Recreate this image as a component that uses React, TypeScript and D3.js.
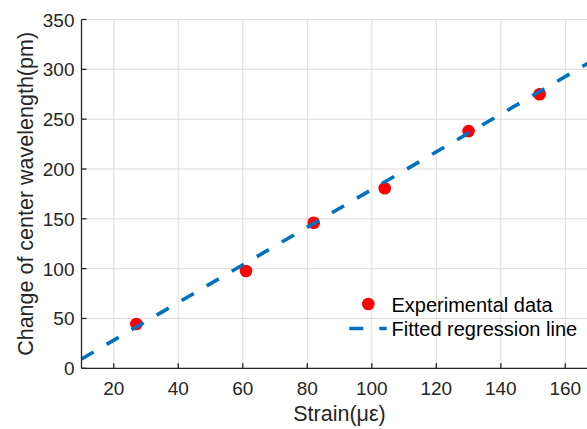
import React from "react";
import * as d3 from "d3";

const strain = [27, 61, 82, 104, 130, 152];
const wavelengthShift = [44.5, 97.6, 146, 180.6, 238, 275];
const fitX = [10, 170];
const fitY = [9.3, 311.7];
const xTicks = [20, 40, 60, 80, 100, 120, 140, 160];
const yTicks = [0, 50, 100, 150, 200, 250, 300, 350];

const W = 587;
const H = 429;
const axisColor = "#262626";
const font = "'Liberation Sans', Arial, Helvetica, sans-serif";

export default function App() {
  const x = d3.scaleLinear().domain([10, 170]).range([81.5, 597.6]);
  const y = d3.scaleLinear().domain([0, 350]).range([368.3, 19.5]);
  const [x0, x1] = x.range();
  const [y0, y1] = y.range();

  const line = d3
    .line<number>()
    .x((d) => x(d))
    .y((_, i) => y(fitY[i]));

  return (
    <svg
      width={W}
      height={H}
      style={{ position: "absolute", left: 0, top: 0, background: "#fff" }}
    >
      <rect x={0} y={0} width={W} height={H} fill="#fff" />
      {/* grid */}
      <g stroke="#dcdcdc" strokeWidth={1}>
        {xTicks.map((t) => (
          <line key={"gx" + t} x1={x(t)} x2={x(t)} y1={y0} y2={y1} />
        ))}
        {yTicks.map((t) => (
          <line key={"gy" + t} x1={x0} x2={x1} y1={y(t)} y2={y(t)} />
        ))}
      </g>
      {/* data points */}
      <g fill="#ff0000">
        {strain.map((s, i) => (
          <circle key={i} cx={x(s)} cy={y(wavelengthShift[i])} r={6.3} />
        ))}
      </g>
      {/* fit line */}
      <path
        d={line(fitX) || ""}
        fill="none"
        stroke="#0072BD"
        strokeWidth={3.6}
        strokeDasharray="14 15"
      />
      {/* axes */}
      <g stroke={axisColor} strokeWidth={1.3}>
        <line x1={x0} x2={x1} y1={y0} y2={y0} />
        <line x1={x0} x2={x0} y1={y0} y2={y1} />
        {xTicks.map((t) => (
          <line key={"tx" + t} x1={x(t)} x2={x(t)} y1={y0} y2={y0 - 5} />
        ))}
        {yTicks.map((t) => (
          <line key={"ty" + t} x1={x0} x2={x0 + 5} y1={y(t)} y2={y(t)} />
        ))}
      </g>
      {/* tick labels */}
      <g fill={axisColor} fontFamily={font} fontSize={19}>
        {xTicks.map((t) => (
          <text key={"lx" + t} x={x(t)} y={395} textAnchor="middle">
            {t}
          </text>
        ))}
        {yTicks.map((t) => (
          <text key={"ly" + t} x={74.5} y={y(t) + 7} textAnchor="end">
            {t}
          </text>
        ))}
      </g>
      {/* axis labels */}
      <text
        x={339.5}
        y={421}
        textAnchor="middle"
        fontFamily={font}
        fontSize={21.5}
        fill={axisColor}
      >
        Strain(με)
      </text>
      <text
        transform={`translate(32.5, ${(y0 + y1) / 2}) rotate(-90)`}
        textAnchor="middle"
        fontFamily={font}
        fontSize={21.5}
        fill={axisColor}
      >
        Change of center wavelength(pm)
      </text>
      {/* legend */}
      <g fontFamily={font} fontSize={20} fill="#000">
        <circle cx={368.3} cy={304} r={6.3} fill="#ff0000" />
        <text x={391.5} y={311.5}>Experimental data</text>
        <line
          x1={349.3}
          x2={386.7}
          y1={328.5}
          y2={328.5}
          stroke="#0072BD"
          strokeWidth={3.6}
          strokeDasharray="14 16"
        />
        <text x={391.5} y={335.5}>Fitted regression line</text>
      </g>
    </svg>
  );
}
